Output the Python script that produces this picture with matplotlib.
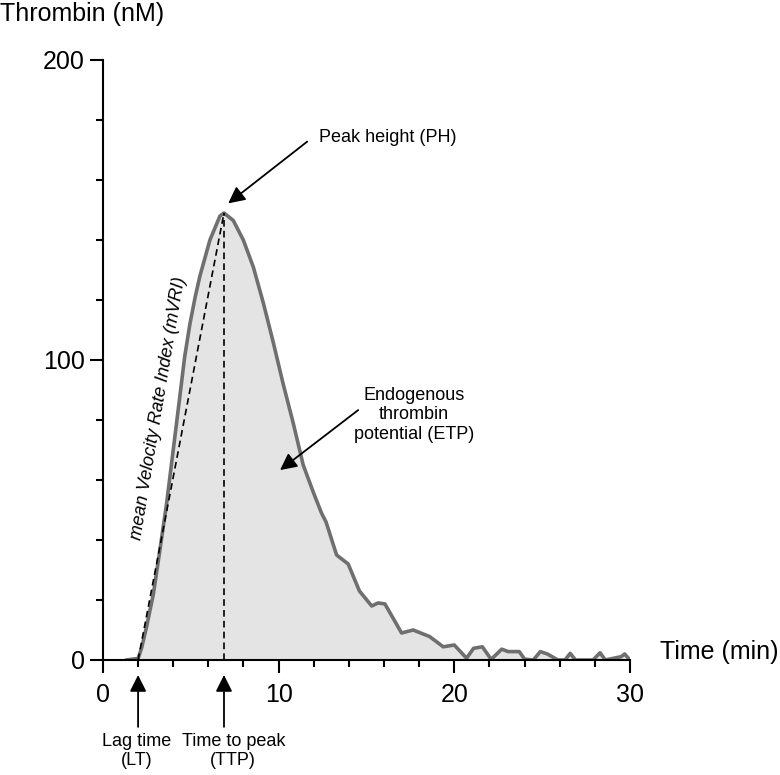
import numpy as np
import matplotlib.pyplot as plt
from matplotlib.ticker import MultipleLocator

plt.rcParams['font.family'] = ['Liberation Sans', 'DejaVu Sans']

# Thrombin generation curve
time_min = [1.35, 1.7, 2.0, 2.2, 2.48, 2.87, 3.2, 3.62, 4.0, 4.38, 4.65, 4.95,
            5.25, 5.52, 6.09, 6.66, 6.89, 7.42, 7.99, 8.56, 9.13, 9.69, 10.26,
            10.83, 11.4, 11.97, 12.44, 12.7, 13.3, 13.96, 14.6, 15.3, 15.66,
            16.05, 17.0, 17.66, 18.6, 19.37, 20.0, 20.7, 21.1, 21.6, 22.1, 22.7,
            23.07, 23.7, 24.0, 24.5, 24.9, 25.3, 25.9, 26.3, 26.6, 26.9, 27.9,
            28.3, 28.6, 29.5, 29.7, 30.0]
thrombin_nm = [0, 0.3, 0.5, 4, 11, 22, 35, 52, 70, 88, 101, 112,
               121, 128, 140, 148, 149, 146.5, 140, 131, 119, 106, 92,
               79, 65, 56, 49, 46, 35, 32, 23, 18, 19,
               18.7, 9, 10, 7.8, 4.4, 5, 0.6, 3.9, 4.4, 0.2, 3.6,
               2.8, 2.8, 0.3, 0, 2.8, 2, 0, 0, 2.2, 0, 0,
               2.4, 0, 1.1, 2, 0]
lag_time = 2.0

peak_idx = int(np.argmax(thrombin_nm))
peak_time = time_min[peak_idx]
peak_height = thrombin_nm[peak_idx]

fig = plt.figure(figsize=(7.8, 7.75), dpi=100)
ax = fig.add_axes([0.132, 0.1484, 0.6756, 0.7742])

# curve + area
ax.fill_between(time_min, thrombin_nm, color='#e4e4e4', lw=0)
ax.plot(time_min, thrombin_nm, color='#6f6f6f', lw=2.6, solid_joinstyle='round')

# dashed helper lines
dash = (0, (4, 2.5))
ax.plot([peak_time, peak_time], [0, peak_height], ls=dash, color='black', lw=1.2)
ax.plot([lag_time, peak_time], [0, peak_height], ls=dash, color='black', lw=1.2)

# axes styling
ax.set_xlim(0, 30)
ax.set_ylim(0, 200)
ax.spines[['top', 'right']].set_visible(False)
for s in ['left', 'bottom']:
    ax.spines[s].set_linewidth(1.5)
ax.set_xticks([0, 10, 20, 30])
ax.set_yticks([0, 100, 200])
ax.xaxis.set_minor_locator(MultipleLocator(2))
ax.yaxis.set_minor_locator(MultipleLocator(20))
ax.tick_params(which='major', length=9.5, width=1.5, labelsize=18)
ax.tick_params(which='minor', length=5, width=1.5)
ax.tick_params(axis='x', which='major', pad=7)
ax.tick_params(axis='y', which='major', pad=3.5)

fig.text(0.0, 1 - 14 / 775, 'Thrombin (nM)', fontsize=18, ha='left', va='center')
ax.text(31.7, 2.7, 'Time (min)', fontsize=18, ha='left', va='center', clip_on=False)

arrow = dict(arrowstyle='-|>', mutation_scale=25, lw=1.3, color='black',
             shrinkA=0, shrinkB=0)

# Peak height
ax.annotate('', xy=(7.13, 152.2), xytext=(11.63, 172.8), arrowprops=arrow)
ax.text(16.22, 174.3, 'Peak height (PH)', fontsize=13, ha='center', va='center')

# ETP
ax.annotate('', xy=(10.08, 63.3), xytext=(14.53, 83.3), arrowprops=arrow)
ax.text(17.7, 81.7, 'Endogenous\nthrombin\npotential (ETP)', fontsize=13,
        ha='center', va='center', multialignment='center', linespacing=1.2)

# mVRI
ax.text(3.19, 84, 'mean Velocity Rate Index (mVRI)', fontsize=13, style='italic',
        rotation=80.5, ha='center', va='center', rotation_mode='anchor')

# lag time / time to peak arrows under the axis
ax.annotate('', xy=(lag_time, -5), xytext=(lag_time, -22.3), arrowprops=arrow,
            annotation_clip=False)
ax.annotate('', xy=(peak_time, -5), xytext=(peak_time, -22.3), arrowprops=arrow,
            annotation_clip=False)
ax.text(1.94, -24.3, 'Lag time\n(LT)', fontsize=13, ha='center', va='top',
        multialignment='center', clip_on=False)
ax.text(7.42, -24.3, 'Time to peak\n(TTP)', fontsize=13, ha='center', va='top',
        multialignment='center', clip_on=False)

fig.savefig('out.png', dpi=100)
